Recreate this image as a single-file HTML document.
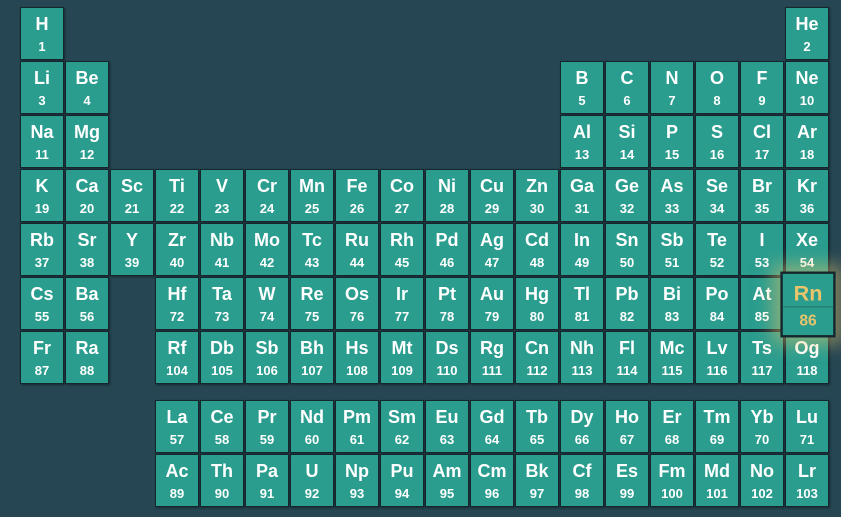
<!DOCTYPE html>
<html><head><meta charset="utf-8"><style>
body{margin:0;width:841px;height:517px;background:#264653;overflow:hidden;position:relative;font-family:"Liberation Sans",sans-serif}
.c{position:absolute;width:42px;height:51px;background:#2a9d8f;border:1px solid #16262d;box-shadow:1px 1px 2px rgba(0,0,0,.4);color:#fff;text-align:center;font-weight:bold}
.s{position:absolute;top:6px;left:0;right:0;font-size:18px}
.n{position:absolute;top:31px;left:0;right:0;font-size:13px}
.hl{transform:scale(1.2);z-index:2;color:#e9c46a;box-shadow:0 0 14px 6px rgba(233,196,106,.5);border:2px solid #16262d}
.hl .n{border-top:1px solid #1f7d72;top:27px;padding-top:3px}
</style></head><body>
<script>
const symbols="H,He,Li,Be,B,C,N,O,F,Ne,Na,Mg,Al,Si,P,S,Cl,Ar,K,Ca,Sc,Ti,V,Cr,Mn,Fe,Co,Ni,Cu,Zn,Ga,Ge,As,Se,Br,Kr,Rb,Sr,Y,Zr,Nb,Mo,Tc,Ru,Rh,Pd,Ag,Cd,In,Sn,Sb,Te,I,Xe,Cs,Ba,La,Ce,Pr,Nd,Pm,Sm,Eu,Gd,Tb,Dy,Ho,Er,Tm,Yb,Lu,Hf,Ta,W,Re,Os,Ir,Pt,Au,Hg,Tl,Pb,Bi,Po,At,Rn,Fr,Ra,Ac,Th,Pa,U,Np,Pu,Am,Cm,Bk,Cf,Es,Fm,Md,No,Lr,Rf,Db,Sb,Bh,Hs,Mt,Ds,Rg,Cn,Nh,Fl,Mc,Lv,Ts,Og".split(",");
const highlighted=[86];
function pos(z){
  if(z==1)return[0,0];if(z==2)return[17,0];
  if(z<=4)return[z-3,1];if(z<=10)return[z-5+12,1];
  if(z<=12)return[z-11,2];if(z<=18)return[z-13+12,2];
  if(z<=36)return[z-19,3];if(z<=54)return[z-37,4];
  if(z>=57&&z<=71)return[z-57+3,7];if(z>=89&&z<=103)return[z-89+3,8];
  let p=z<=86?z-55:z-87;let r=z<=86?5:6;
  if(p>=2)p=z<=86?z-71+2:z-103+2;
  return[p,r];
}
symbols.forEach((s,i)=>{
  const z=i+1;const[c,r]=pos(z);
  const top=r<7?7+r*54:400+(r-7)*54;
  const d=document.createElement('div');
  d.className='c'+(highlighted.includes(z)?' hl':'');
  d.style.left=(20+c*45)+'px';d.style.top=top+'px';
  
  
  d.innerHTML='<div class="s">'+s+'</div><div class="n">'+z+'</div>';
  document.body.appendChild(d);
});
</script>
</body></html>
